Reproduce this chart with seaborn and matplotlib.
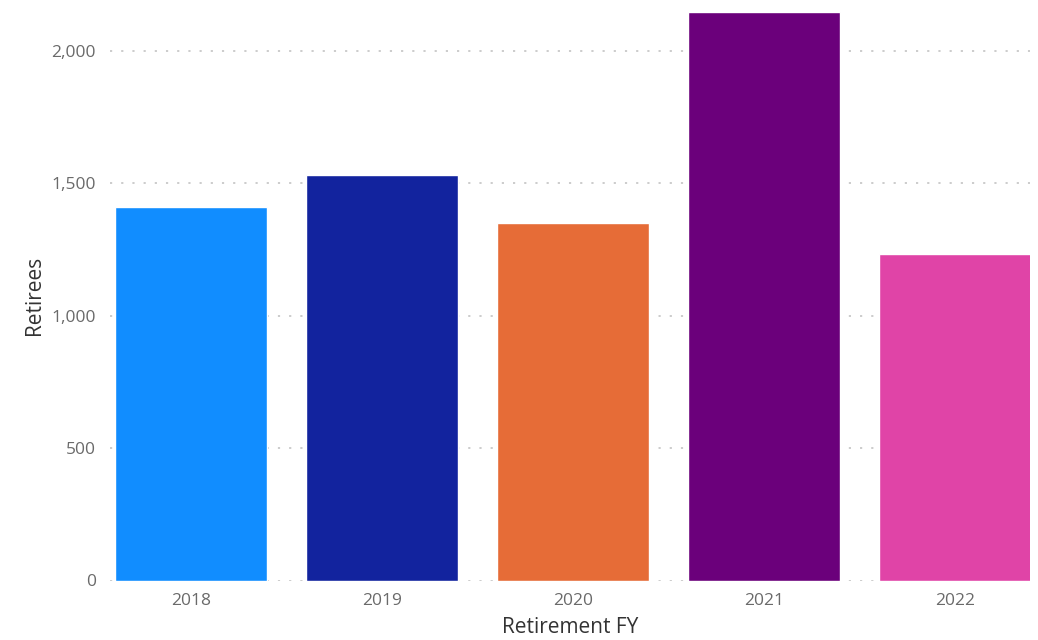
import matplotlib
matplotlib.use("Agg")
import matplotlib.pyplot as plt
import seaborn as sns
import pandas as pd
from matplotlib.ticker import FuncFormatter

years = ["2018", "2019", "2020", "2021", "2022"]
retirees = [1411, 1532, 1351, 2145, 1234]
colors = ["#118DFF", "#12239E", "#E66C37", "#6B007B", "#E044A7"]
yticks = [0, 500, 1000, 1500, 2000]

sns.set_theme(style="white")
plt.rcParams["font.family"] = ["Open Sans", "DejaVu Sans"]

df = pd.DataFrame({"Retirement FY": years, "Retirees": retirees})

fig = plt.figure(figsize=(10.38, 6.4), dpi=100)
ax = fig.add_axes([110 / 1038, 1 - 580.5 / 640, 920 / 1038, 570.5 / 640])

sns.barplot(data=df, x="Retirement FY", y="Retirees", hue="Retirement FY",
            palette=colors, legend=False, width=0.8, saturation=1, ax=ax, zorder=3)

ax.set_xlim(-0.424, 4.393)
ax.set_ylim(0, 2153)
ax.set_yticks(yticks)
ax.yaxis.set_major_formatter(FuncFormatter(lambda v, p: f"{int(v):,}"))
ax.grid(axis="y", color="#c8c8c8", linestyle=(0, (1.2, 5)), linewidth=1.3, zorder=0)
ax.grid(axis="x", visible=False)
for s in ax.spines.values():
    s.set_visible(False)
ax.tick_params(axis="both", length=0, labelsize=12.5, labelcolor="#6a6a6a")
ax.tick_params(axis="y", pad=10)
ax.tick_params(axis="x", pad=9)
ax.set_xlabel("Retirement FY", fontsize=15, color="#333333", labelpad=6)
ax.set_ylabel("Retirees", fontsize=15, color="#333333", labelpad=5)

fig.savefig("out.png", dpi=100)
